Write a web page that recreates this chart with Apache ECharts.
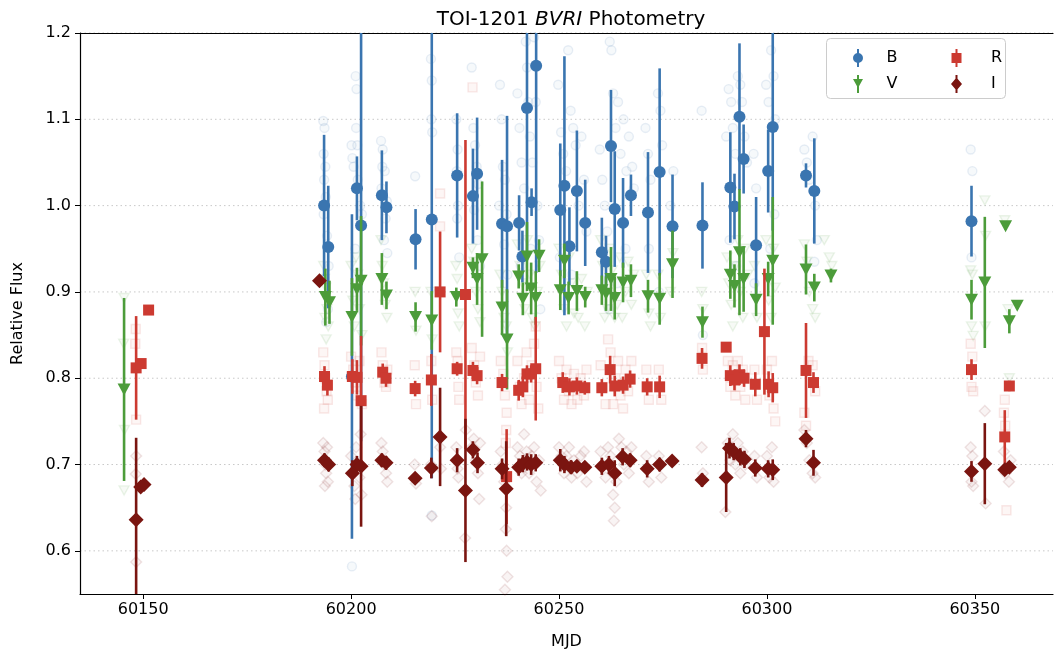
<!DOCTYPE html>
<html><head><meta charset="utf-8">
<script src="https://cdn.jsdelivr.net/npm/echarts@6/dist/echarts.min.js"></script>
<style>html,body{margin:0;padding:0;background:#fff}#c{width:1055px;height:655px}</style>
</head><body><div id="c"></div>
<script>
// ---- data: binned points [MJD, flux, error] ----
const B_bins = [[60193.5,1.000,0.082],[60194.5,0.952,0.071],[60200.2,0.802,0.188],[60201.4,1.020,0.037],[60202.4,0.977,0.25],[60207.4,1.012,0.052],[60208.5,0.998,0.03],[60215.5,0.961,0.035],[60219.4,0.984,0.30],[60225.5,1.035,0.072],[60229.3,1.011,0.055],[60230.3,1.037,0.065],[60236.3,0.979,0.074],[60237.5,0.976,0.128],[60240.4,0.980,0.032],[60241.2,0.941,0.03],[60242.3,1.113,0.168],[60243.4,1.004,0.016],[60244.5,1.162,0.24],[60250.3,0.995,0.077],[60251.3,1.023,0.15],[60252.5,0.953,0.045],[60254.3,1.017,0.07],[60256.3,0.980,0.05],[60260.3,0.946,0.04],[60261.3,0.935,0.03],[60262.5,1.069,0.065],[60263.4,0.996,0.067],[60265.4,0.980,0.052],[60267.3,1.012,0.024],[60271.4,0.992,0.07],[60274.2,1.039,0.12],[60277.3,0.976,0.06],[60284.5,0.977,0.05],[60291.2,1.021,0.064],[60292.2,0.999,0.038],[60293.4,1.103,0.085],[60294.4,1.054,0.04],[60297.4,0.954,0.056],[60300.3,1.040,0.048],[60301.4,1.091,0.12],[60309.4,1.035,0.014],[60311.4,1.017,0.061],[60349.2,0.982,0.041]];
const V_bins = [[60145.4,0.787,0.106],[60193.8,0.894,0.033],[60194.8,0.888,0.025],[60200.2,0.871,0.045],[60201.4,0.903,0.025],[60202.4,0.913,0.075],[60207.4,0.915,0.03],[60208.5,0.896,0.016],[60215.5,0.871,0.017],[60219.4,0.867,0.034],[60225.3,0.894,0.011],[60229.3,0.928,0.012],[60230.3,0.915,0.03],[60231.5,0.938,0.09],[60236.3,0.882,0.032],[60237.5,0.845,0.058],[60240.3,0.918,0.014],[60241.3,0.892,0.019],[60242.3,0.941,0.04],[60243.3,0.904,0.03],[60244.4,0.893,0.031],[60245.2,0.942,0.019],[60250.3,0.902,0.023],[60251.3,0.936,0.02],[60252.3,0.893,0.019],[60254.3,0.901,0.023],[60256.3,0.894,0.012],[60260.3,0.902,0.017],[60261.3,0.898,0.02],[60262.5,0.915,0.037],[60263.4,0.893,0.025],[60265.4,0.911,0.023],[60267.3,0.913,0.019],[60271.4,0.895,0.019],[60274.2,0.892,0.03],[60277.3,0.932,0.039],[60284.5,0.865,0.018],[60291.2,0.920,0.028],[60292.2,0.907,0.025],[60293.4,0.946,0.073],[60294.4,0.915,0.038],[60297.4,0.891,0.019],[60300.3,0.915,0.02],[60301.4,0.936,0.074],[60309.4,0.926,0.029],[60311.4,0.905,0.016],[60315.4,0.919,0.008],[60349.2,0.891,0.023],[60352.4,0.911,0.076],[60357.4,0.976,0.004],[60358.3,0.866,0.014],[60360.2,0.884,0.003]];
const R_bins = [[60148.3,0.812,0.06],[60149.5,0.817,0.004],[60151.3,0.879,0.003],[60193.6,0.802,0.012],[60194.3,0.792,0.012],[60200.3,0.802,0.02],[60201.4,0.801,0.02],[60202.4,0.774,0.075],[60207.6,0.807,0.01],[60208.4,0.800,0.01],[60215.4,0.788,0.009],[60219.3,0.798,0.03],[60221.4,0.900,0.07],[60225.5,0.811,0.008],[60227.5,0.897,0.179],[60229.3,0.809,0.01],[60230.3,0.803,0.01],[60236.3,0.795,0.01],[60237.4,0.686,0.055],[60240.3,0.786,0.012],[60241.3,0.790,0.012],[60242.3,0.805,0.01],[60243.3,0.805,0.01],[60244.4,0.811,0.06],[60250.9,0.795,0.012],[60252.5,0.790,0.01],[60254.3,0.791,0.01],[60256.2,0.789,0.008],[60260.3,0.789,0.01],[60262.3,0.810,0.016],[60263.4,0.791,0.012],[60265.4,0.792,0.01],[60267.1,0.799,0.01],[60271.2,0.790,0.01],[60274.2,0.790,0.013],[60284.4,0.823,0.012],[60290.2,0.836,0.003],[60291.2,0.803,0.012],[60292.2,0.798,0.012],[60293.4,0.804,0.012],[60294.5,0.800,0.01],[60297.2,0.793,0.014],[60299.4,0.854,0.073],[60300.4,0.793,0.015],[60301.4,0.789,0.017],[60309.4,0.809,0.055],[60311.2,0.795,0.012],[60349.2,0.810,0.012],[60357.2,0.732,0.031],[60358.3,0.791,0.006]];
const I_bins = [[60148.3,0.636,0.095],[60149.4,0.674,0.005],[60150.2,0.677,0.003],[60192.4,0.913,0.003],[60193.6,0.705,0.008],[60194.6,0.700,0.008],[60200.3,0.690,0.015],[60201.4,0.700,0.01],[60202.4,0.698,0.07],[60207.4,0.705,0.008],[60208.4,0.702,0.008],[60215.4,0.684,0.004],[60219.3,0.696,0.012],[60221.4,0.732,0.057],[60225.5,0.705,0.014],[60227.5,0.670,0.083],[60229.3,0.717,0.01],[60230.4,0.702,0.012],[60236.3,0.695,0.012],[60237.3,0.672,0.055],[60240.3,0.697,0.01],[60241.3,0.701,0.01],[60242.3,0.703,0.01],[60243.3,0.700,0.012],[60244.4,0.702,0.01],[60250.3,0.705,0.013],[60251.3,0.700,0.01],[60252.9,0.697,0.008],[60254.3,0.698,0.006],[60256.2,0.697,0.006],[60260.3,0.698,0.01],[60262.0,0.700,0.01],[60263.4,0.690,0.015],[60265.3,0.709,0.01],[60267.1,0.705,0.008],[60271.2,0.695,0.01],[60274.2,0.700,0.008],[60277.2,0.704,0.004],[60284.4,0.682,0.008],[60290.2,0.685,0.04],[60291.0,0.719,0.012],[60292.0,0.715,0.01],[60293.6,0.709,0.01],[60294.6,0.706,0.01],[60297.2,0.696,0.01],[60300.3,0.695,0.01],[60301.4,0.694,0.012],[60309.4,0.730,0.01],[60311.2,0.702,0.015],[60349.2,0.692,0.012],[60352.4,0.701,0.047],[60357.2,0.694,0.006],[60358.3,0.697,0.006]];

// ---- data: individual (unbinned) measurements [MJD, flux] ----
const B_raw = [[60193.3,1.098],[60193.6,1.09],[60193.4,1.06],[60193.8,1.045],[60193.5,1.03],[60193.9,1.01],[60193.4,0.99],[60194.2,0.965],[60194.6,0.93],[60193.7,0.915],[60194.4,0.88],[60194.0,0.865],[60200.1,1.07],[60200.3,1.055],[60201.1,1.15],[60201.3,1.135],[60201.2,1.09],[60201.5,1.07],[60200.6,1.045],[60201.6,1.03],[60202.2,1.0],[60200.2,0.582],[60201.0,0.95],[60202.6,0.99],[60207.2,1.075],[60207.6,1.065],[60207.5,1.045],[60208.1,1.04],[60207.3,1.02],[60208.6,1.005],[60208.3,0.985],[60207.9,0.96],[60208.7,0.945],[60215.4,1.034],[60219.2,1.17],[60219.4,1.145],[60219.3,1.10],[60219.5,1.085],[60219.4,0.641],[60225.3,1.1],[60225.6,1.065],[60225.4,1.04],[60225.7,1.0],[60225.5,0.985],[60226.0,0.94],[60229.0,1.16],[60229.4,1.09],[60229.8,1.07],[60230.2,1.045],[60230.6,1.025],[60229.6,0.995],[60230.4,0.96],[60231.0,0.93],[60235.8,1.14],[60236.2,1.1],[60236.5,1.045],[60237.0,1.03],[60237.4,0.99],[60236.8,0.955],[60237.6,0.92],[60235.6,1.0],[60240.0,1.13],[60240.5,1.09],[60241.0,1.05],[60241.6,1.02],[60242.0,1.19],[60242.3,1.16],[60242.6,1.12],[60243.0,1.08],[60243.6,1.05],[60244.0,1.195],[60244.4,1.12],[60244.8,1.0],[60245.2,0.96],[60240.8,0.93],[60243.2,0.95],[60245.5,0.88],[60249.8,1.14],[60250.5,1.085],[60251.0,1.06],[60251.7,1.04],[60252.2,1.18],[60252.8,1.11],[60253.4,1.09],[60254.0,1.07],[60254.7,1.0],[60255.4,1.08],[60256.0,1.03],[60256.6,0.97],[60250.2,0.94],[60253.0,0.92],[60259.8,1.065],[60260.4,1.03],[60261.0,1.0],[60261.6,0.97],[60262.2,1.19],[60262.6,1.18],[60263.0,1.13],[60263.6,1.09],[60264.2,1.12],[60264.8,1.06],[60265.5,1.10],[60266.2,1.04],[60266.8,1.08],[60267.6,1.045],[60268.0,1.02],[60262.0,0.88],[60264.0,0.91],[60266.0,0.95],[60270.8,1.09],[60271.4,1.06],[60272.0,1.03],[60273.8,1.13],[60274.4,1.11],[60274.8,1.07],[60276.8,1.0],[60277.5,1.04],[60271.6,0.95],[60274.0,0.90],[60284.3,1.11],[60284.6,0.85],[60290.2,1.08],[60290.8,1.135],[60291.4,1.12],[60291.8,1.09],[60292.4,1.06],[60293.0,1.15],[60293.6,1.14],[60294.0,1.12],[60294.6,1.08],[60295.2,1.05],[60296.8,1.06],[60297.4,1.02],[60299.8,1.14],[60300.4,1.12],[60301.0,1.18],[60301.6,1.15],[60302.0,1.10],[60291.0,0.96],[60292.6,0.93],[60297.0,0.91],[60300.8,0.95],[60301.8,0.99],[60309.0,1.065],[60309.6,1.05],[60310.2,1.03],[60311.0,1.08],[60311.6,1.0],[60312.0,0.96],[60311.4,0.935],[60349.0,1.065],[60349.4,1.04],[60349.2,0.94]];
const V_raw = [[60145.4,0.893],[60145.4,0.67],[60145.5,0.74],[60145.3,0.84],[60193.4,0.93],[60193.6,0.915],[60193.9,0.905],[60194.2,0.88],[60194.5,0.86],[60194.0,0.845],[60193.7,0.87],[60200.0,0.93],[60200.4,0.89],[60200.8,0.86],[60201.2,0.94],[60201.6,0.92],[60202.0,0.88],[60202.6,0.85],[60207.2,0.96],[60207.5,0.93],[60207.8,0.91],[60208.2,0.885],[60208.6,0.87],[60215.4,0.9],[60215.6,0.855],[60219.2,0.9],[60219.5,0.845],[60225.2,0.93],[60225.5,0.915],[60225.7,0.875],[60226.0,0.86],[60229.0,0.95],[60229.5,0.935],[60230.0,0.9],[60230.5,0.88],[60231.0,0.865],[60235.8,0.92],[60236.3,0.9],[60236.8,0.87],[60237.3,0.86],[60237.6,0.83],[60240.0,0.955],[60240.6,0.93],[60241.2,0.91],[60241.8,0.88],[60242.4,0.96],[60243.0,0.92],[60243.6,0.87],[60244.2,0.86],[60244.8,0.9],[60245.4,0.93],[60250.0,0.95],[60250.6,0.92],[60251.2,0.88],[60251.8,0.86],[60252.4,0.94],[60253.0,0.91],[60253.6,0.875],[60254.6,0.87],[60255.4,0.915],[60256.2,0.86],[60256.8,0.9],[60260.0,0.96],[60260.5,0.93],[60261.0,0.87],[60261.6,0.88],[60262.2,0.95],[60262.8,0.925],[60263.4,0.87],[60264.0,0.885],[60264.6,0.94],[60265.2,0.87],[60266.0,0.9],[60266.6,0.935],[60267.4,0.885],[60268.0,0.92],[60271.0,0.92],[60271.6,0.875],[60272.0,0.86],[60273.8,0.92],[60274.4,0.87],[60276.8,0.9],[60277.4,0.945],[60284.3,0.9],[60284.6,0.88],[60290.4,0.94],[60290.8,0.91],[60291.4,0.885],[60291.8,0.86],[60292.4,0.93],[60293.0,0.96],[60293.6,0.9],[60294.2,0.87],[60294.8,0.95],[60295.4,0.92],[60297.0,0.93],[60297.6,0.87],[60299.8,0.96],[60300.4,0.89],[60301.0,0.87],[60301.6,0.95],[60302.0,0.905],[60309.0,0.955],[60309.6,0.935],[60310.2,0.9],[60311.0,0.88],[60311.6,0.87],[60313.8,0.96],[60315.0,0.94],[60315.6,0.93],[60349.0,0.925],[60349.4,0.92],[60349.2,0.86],[60349.6,0.849],[60352.4,1.006],[60352.6,0.965],[60352.5,0.86],[60357.2,0.983],[60358.0,0.88],[60358.3,0.80]];
const R_raw = [[60148.1,0.84],[60148.3,0.752],[60148.2,0.857],[60193.3,0.83],[60193.6,0.815],[60193.8,0.80],[60194.1,0.785],[60194.4,0.775],[60193.5,0.765],[60200.0,0.825],[60200.5,0.81],[60201.0,0.795],[60201.5,0.78],[60202.0,0.82],[60202.6,0.77],[60207.3,0.83],[60207.6,0.815],[60208.0,0.795],[60208.4,0.79],[60208.7,0.81],[60215.3,0.815],[60215.6,0.77],[60219.3,0.82],[60219.5,0.775],[60221.4,1.014],[60221.4,0.976],[60225.3,0.83],[60225.6,0.82],[60225.8,0.79],[60226.0,0.775],[60229.2,1.137],[60229.0,0.835],[60229.6,0.815],[60230.0,0.795],[60230.5,0.78],[60231.0,0.825],[60236.0,0.82],[60236.6,0.805],[60237.0,0.78],[60237.4,0.76],[60237.3,0.74],[60237.2,0.725],[60240.0,0.82],[60240.6,0.79],[60241.0,0.77],[60241.6,0.80],[60242.2,0.83],[60242.8,0.775],[60243.4,0.815],[60244.0,0.84],[60244.6,0.79],[60245.0,0.765],[60244.4,0.86],[60250.0,0.82],[60250.6,0.8],[60251.2,0.775],[60251.8,0.81],[60252.4,0.785],[60253.0,0.77],[60253.6,0.805],[60254.4,0.775],[60255.2,0.8],[60256.0,0.78],[60256.6,0.81],[60260.0,0.815],[60260.6,0.79],[60261.2,0.77],[60261.8,0.845],[60262.4,0.83],[60263.0,0.77],[60263.6,0.8],[60264.2,0.82],[60264.8,0.78],[60265.4,0.765],[60266.0,0.81],[60266.6,0.785],[60267.4,0.82],[60271.0,0.81],[60271.6,0.775],[60274.0,0.81],[60274.6,0.775],[60284.4,0.835],[60284.6,0.81],[60290.6,0.82],[60291.2,0.79],[60291.8,0.815],[60292.4,0.78],[60293.0,0.82],[60293.6,0.79],[60294.2,0.81],[60294.8,0.775],[60297.0,0.81],[60297.6,0.775],[60300.0,0.81],[60300.6,0.78],[60301.2,0.82],[60301.6,0.765],[60302.0,0.75],[60309.0,0.76],[60309.4,0.745],[60310.0,0.82],[60311.0,0.815],[60311.6,0.785],[60349.0,0.84],[60349.4,0.825],[60349.2,0.79],[60349.6,0.785],[60357.0,0.76],[60357.3,0.745],[60357.6,0.647],[60357.2,0.775]];
const I_raw = [[60148.3,0.71],[60148.2,0.689],[60148.3,0.587],[60193.3,0.725],[60193.6,0.715],[60193.8,0.70],[60194.0,0.69],[60194.4,0.68],[60193.7,0.675],[60194.2,0.72],[60200.0,0.71],[60200.5,0.69],[60200.8,0.675],[60201.2,0.72],[60201.6,0.70],[60202.0,0.685],[60202.5,0.665],[60202.3,0.735],[60201.0,0.66],[60207.3,0.725],[60207.6,0.715],[60208.0,0.70],[60208.4,0.69],[60208.7,0.68],[60215.3,0.70],[60215.6,0.678],[60219.2,0.70],[60219.4,0.64],[60221.4,0.72],[60221.6,0.695],[60225.3,0.72],[60225.6,0.695],[60225.8,0.685],[60227.4,0.615],[60227.6,0.74],[60229.0,0.72],[60229.5,0.73],[60230.0,0.705],[60230.5,0.69],[60231.0,0.725],[60230.8,0.66],[60236.0,0.715],[60236.4,0.70],[60236.8,0.68],[60237.2,0.625],[60237.4,0.6],[60237.0,0.555],[60237.6,0.57],[60237.3,0.65],[60240.0,0.72],[60240.6,0.71],[60241.0,0.69],[60241.6,0.735],[60242.2,0.715],[60242.8,0.69],[60243.4,0.71],[60244.0,0.72],[60244.6,0.68],[60245.2,0.705],[60245.6,0.67],[60250.0,0.72],[60250.6,0.71],[60251.2,0.69],[60251.8,0.71],[60252.4,0.72],[60253.0,0.685],[60253.6,0.705],[60254.4,0.69],[60255.2,0.71],[60256.0,0.715],[60256.6,0.68],[60260.0,0.715],[60260.6,0.70],[60261.2,0.685],[60261.8,0.72],[60262.4,0.71],[60263.0,0.665],[60263.4,0.65],[60263.2,0.635],[60263.8,0.68],[60264.4,0.73],[60265.0,0.72],[60265.6,0.70],[60266.2,0.715],[60266.8,0.69],[60267.4,0.72],[60271.0,0.71],[60271.6,0.68],[60274.0,0.71],[60274.6,0.685],[60284.3,0.72],[60284.6,0.69],[60290.0,0.645],[60290.6,0.725],[60291.2,0.705],[60291.8,0.735],[60292.4,0.70],[60293.0,0.725],[60293.6,0.69],[60294.2,0.715],[60294.8,0.70],[60297.0,0.71],[60297.6,0.685],[60300.0,0.71],[60300.6,0.685],[60301.2,0.72],[60301.6,0.68],[60309.0,0.74],[60309.6,0.725],[60310.2,0.705],[60311.0,0.69],[60311.6,0.685],[60349.0,0.72],[60349.4,0.71],[60349.2,0.68],[60349.6,0.675],[60352.4,0.762],[60352.6,0.655],[60357.0,0.715],[60357.4,0.69],[60358.2,0.68],[60358.6,0.705]];

const xTicks = [60150, 60200, 60250, 60300, 60350];
const yTicks = [0.6, 0.7, 0.8, 0.9, 1.0, 1.1, 1.2];

// ---- styling ----
const COL = {B:'#3a75b0', V:'#4c9c3a', R:'#cc3a31', I:'#7a1510'};
const RGB = {B:'58,117,176', V:'76,156,58', R:'204,58,49', I:'122,21,16'};
const SYM = {B:'circle', V:'triangle', R:'rect', I:'diamond'};
const ROT = {B:0, V:180, R:0, I:0};
const SIZE = {B:12, V:[13,12], R:11, I:[15,15]};
const LINE = 'M4 0h2v18h-2Z';
const ICON = {
  B: 'path://' + LINE + 'M0 9a5 5 0 1 1 10 0a5 5 0 1 1 -10 0Z',
  V: 'path://' + LINE + 'M0 4L10 4L5 13Z',
  R: 'path://' + LINE + 'M0 4h10v10h-10Z',
  I: 'path://' + LINE + 'M5 2.5L10.5 9L5 15.5L-0.5 9Z'
};
const FONT = 'DejaVu Sans';

function errRender(color){
  return function(params, api){
    const x = api.value(0), y = api.value(1), e = api.value(2);
    const p1 = api.coord([x, y + e]), p2 = api.coord([x, y - e]);
    return {type:'line', shape:{x1:p1[0], y1:p1[1], x2:p2[0], y2:p2[1]},
            style:{stroke:color, lineWidth:2.6}};
  };
}

const series = [];
// grid lines
series.push({
  type:'custom', name:'gridlines', data: yTicks.map(v=>[v]), z:0, silent:true,
  renderItem:function(params, api){
    const cs = params.coordSys; const p = api.coord([60200, api.value(0)]);
    return {type:'line', shape:{x1:cs.x, y1:p[1], x2:cs.x+cs.width, y2:p[1]},
            style:{stroke:'#c8c8c8', lineWidth:1, lineDash:[1.5,3]}};
  },
  encode:{y:0}
});
// faint raw points
const raws = {B:B_raw, V:V_raw, R:R_raw, I:I_raw};
['B','V','R','I'].forEach((k,i)=>{
  series.push({
    type:'scatter', name:k+'_raw', data:raws[k], z:1+i, silent:true,
    symbol:SYM[k], symbolRotate:ROT[k], symbolSize:(k==='V'?[10,9]:(k==='I'?11:9)),
    itemStyle:{color:'rgba('+RGB[k]+',0.06)', borderColor:'rgba('+RGB[k]+',0.14)', borderWidth:1.4}
  });
});
// binned points with error bars
const bins = {B:B_bins, V:V_bins, R:R_bins, I:I_bins};
['B','V','R','I'].forEach((k,i)=>{
  series.push({
    type:'custom', name:k+'_err', data:bins[k], z:10+2*i, clip:true, silent:true,
    renderItem: errRender(COL[k]), encode:{x:0, y:1}
  });
  series.push({
    type:'scatter', name:k, data:bins[k].map(d=>[d[0], d[1]]), z:11+2*i,
    symbol:SYM[k], symbolRotate:ROT[k], symbolSize:SIZE[k],
    itemStyle:{color:COL[k], opacity:1}
  });
});

const chart = echarts.init(document.getElementById('c'), null, {renderer:'canvas'});
chart.setOption({
  animation:false,
  backgroundColor:'#fff',
  title:{
    text:'{n|TOI-1201 }{i|BVRI}{n| Photometry}', left:566, top:5, textAlign:'center',
    textStyle:{fontWeight:'normal', rich:{n:{fontFamily:FONT, fontSize:20, fontWeight:'normal', color:'#000'},
                     i:{fontFamily:FONT, fontSize:20, fontStyle:'italic', fontWeight:'normal', color:'#000'}}}
  },
  grid:{left:80, right:2, top:33, bottom:57},
  xAxis:[{
    type:'value', min:60134.8, max:60368.8, position:'bottom',
    name:'MJD', nameLocation:'middle', nameGap:40,
    nameTextStyle:{fontFamily:FONT, fontSize:16, color:'#000'},
    axisLine:{show:true, lineStyle:{color:'#000', width:1.2}},
    axisTick:{show:true, length:5, customValues:xTicks, lineStyle:{color:'#000'}},
    axisLabel:{customValues:xTicks, formatter:v=>String(Math.round(v)), fontFamily:FONT, fontSize:16, color:'#000', margin:8},
    splitLine:{show:false}
  },{
    type:'value', min:60134.8, max:60368.8, position:'top',
    axisLine:{show:true, lineStyle:{color:'#000', width:1.2}},
    axisTick:{show:false}, axisLabel:{show:false}, splitLine:{show:false}
  }],
  yAxis:{
    type:'value', min:0.55, max:1.2,
    name:'Relative Flux', nameLocation:'middle', nameGap:54, nameRotate:90,
    nameTextStyle:{fontFamily:FONT, fontSize:16, color:'#000'},
    axisLine:{show:true, lineStyle:{color:'#000', width:1.2}},
    axisTick:{show:true, length:5, customValues:yTicks, lineStyle:{color:'#000'}},
    axisLabel:{customValues:yTicks, formatter:v=>v.toFixed(1), fontFamily:FONT, fontSize:16, color:'#000', margin:9},
    splitLine:{show:false}
  },
  legend:[{
    data:[{name:'B', icon:ICON.B},{name:'V', icon:ICON.V}],
    left:848, top:44, orient:'vertical', itemWidth:11, itemHeight:18, itemGap:8, z:60,
    selectedMode:false,
    textStyle:{fontFamily:FONT, fontSize:16, color:'#000', padding:[0,0,0,18]}
  },{
    data:[{name:'R', icon:ICON.R},{name:'I', icon:ICON.I}],
    left:946, top:44, orient:'vertical', itemWidth:11, itemHeight:18, itemGap:8, z:60,
    selectedMode:false,
    textStyle:{fontFamily:FONT, fontSize:16, color:'#000', padding:[0,0,0,24]}
  }],
  graphic:[{
    type:'rect', left:826, top:38, z:50,
    shape:{width:179, height:60, r:4},
    style:{fill:'rgba(255,255,255,0.85)', stroke:'#cccccc', lineWidth:1}
  }],
  series: series
});
</script>
</body></html>
